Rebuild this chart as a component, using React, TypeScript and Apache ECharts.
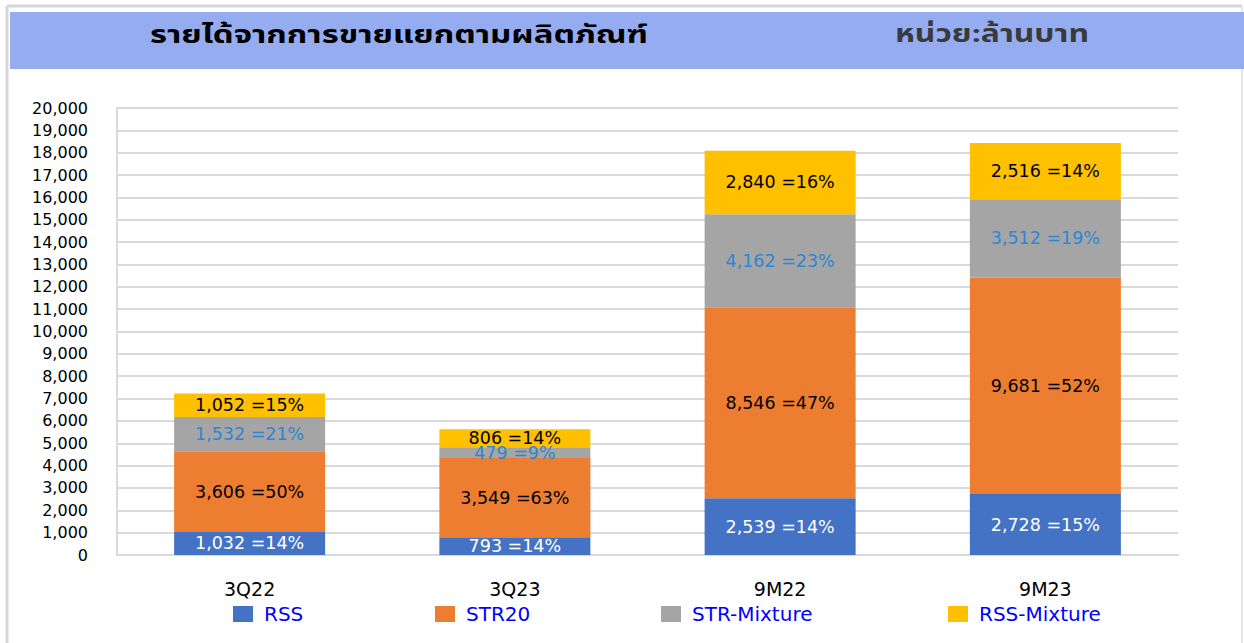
import React, { useEffect, useRef } from "react";
import * as echarts from "echarts";

const categories = ["3Q22", "3Q23", "9M22", "9M23"];
const seriesNames = ["RSS", "STR20", "STR-Mixture", "RSS-Mixture"];
const rssValues = [1032, 793, 2539, 2728];
const str20Values = [3606, 3549, 8546, 9681];
const strMixValues = [1532, 479, 4162, 3512];
const rssMixValues = [1052, 806, 2840, 2516];
const rssPct = [14, 14, 14, 15];
const str20Pct = [50, 63, 47, 52];
const strMixPct = [21, 9, 23, 19];
const rssMixPct = [15, 14, 16, 14];
const yTicks = { min: 0, max: 20000, interval: 1000 };

const titleText = "รายได้จากการขายแยกตามผลิตภัณฑ์";
const unitText = "หน่วย:ล้านบาท";

const colors = ["#4472C4", "#ED7D31", "#A5A5A5", "#FFC000"];
const labelColors = ["#FFFFFF", "#000000", "#2E86D4", "#000000"];
const FONT = "'DejaVu Sans', Arial, sans-serif";
const THAI_FONT = "Tahoma, 'Noto Sans Thai', 'Noto Sans', 'DejaVu Sans', sans-serif";

export default function App() {
  const ref = useRef<HTMLDivElement>(null);
  useEffect(() => {
    if (!ref.current) return;
    const chart = echarts.init(ref.current, undefined, { renderer: "svg" });
    const values = [rssValues, str20Values, strMixValues, rssMixValues];
    const pcts = [rssPct, str20Pct, strMixPct, rssMixPct];
    const legendLefts = [233, 435, 661, 948];
    chart.setOption({
      animation: false,
      backgroundColor: "#FFFFFF",
      grid: { left: 117, right: 66, top: 108, bottom: 88 },
      xAxis: {
        type: "category",
        data: categories,
        axisLine: { lineStyle: { color: "#D9D9D9", width: 2 } },
        axisTick: { show: false },
        axisLabel: { color: "#000", fontSize: 19, fontFamily: FONT, margin: 24 },
      },
      yAxis: {
        type: "value",
        min: yTicks.min,
        max: yTicks.max,
        interval: yTicks.interval,
        axisLine: { show: true, lineStyle: { color: "#D9D9D9", width: 2 } },
        axisTick: { show: false },
        splitLine: { lineStyle: { color: "#D9D9D9", width: 2 } },
        axisLabel: {
          color: "#000",
          fontSize: 16,
          fontFamily: FONT,
          margin: 29,
          formatter: (v: number) => v.toLocaleString("en-US"),
        },
      },
      legend: seriesNames.map((n, i) => ({
        data: [n],
        left: legendLefts[i],
        top: 604,
        padding: 0,
        icon: "rect",
        itemWidth: 20,
        itemHeight: 16,
        textStyle: { color: "#0000FF", fontSize: 20, fontFamily: FONT, padding: [0, 0, 0, 6] },
      })),
      series: seriesNames.map((n, i) => ({
        name: n,
        type: "bar",
        stack: "total",
        barWidth: 151,
        data: values[i],
        itemStyle: { color: colors[i] },
        label: {
          show: true,
          position: "inside",
          color: labelColors[i],
          fontSize: 17.5,
          fontFamily: FONT,
          formatter: (p: any) =>
            `${(values[i][p.dataIndex] as number).toLocaleString("en-US")} =${pcts[i][p.dataIndex]}%`,
        },
      })),
      graphic: [
        { type: "line", shape: { x1: 7, y1: 6, x2: 1242, y2: 6 }, style: { stroke: "#D6D6D6", lineWidth: 3 } },
        { type: "line", shape: { x1: 7, y1: 6, x2: 7, y2: 643 }, style: { stroke: "#D6D6D6", lineWidth: 3 } },
        { type: "line", shape: { x1: 1242, y1: 6, x2: 1242, y2: 643 }, style: { stroke: "#E6E6E6", lineWidth: 2 } },
        { type: "rect", shape: { x: 10, y: 12, width: 1234, height: 57 }, style: { fill: "#95ADF0" } },
        {
          type: "text",
          x: 399,
          y: 35,
          scaleX: 1.37,
          style: {
            text: titleText,
            fill: "#000",
            fontSize: 24,
            fontWeight: "bold",
            fontFamily: THAI_FONT,
            align: "center",
            verticalAlign: "middle",
          },
        },
        {
          type: "text",
          x: 992,
          y: 35,
          scaleX: 1.33,
          style: {
            text: unitText,
            fill: "#3A3A3A",
            fontSize: 24,
            fontWeight: "bold",
            fontFamily: THAI_FONT,
            align: "center",
            verticalAlign: "middle",
          },
        },
      ],
    });
    return () => chart.dispose();
  }, []);
  return (
    <div
      ref={ref}
      style={{ position: "fixed", left: 0, top: 0, width: 1244, height: 643 }}
    />
  );
}
